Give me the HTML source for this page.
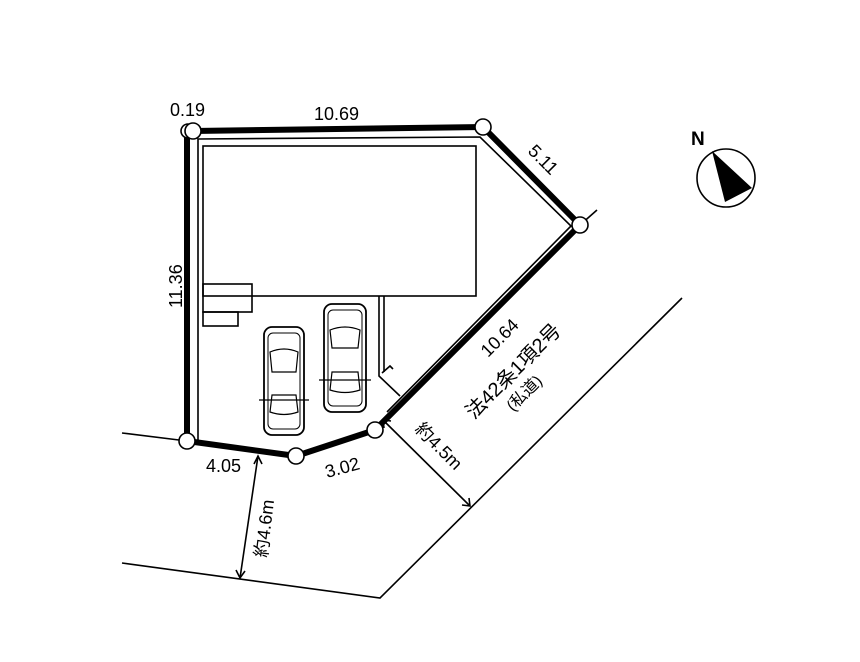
<!DOCTYPE html>
<html><head><meta charset="utf-8"><style>
html,body{margin:0;padding:0;background:#fff;width:860px;height:662px;overflow:hidden}
text{font-family:"Liberation Sans","Noto Sans CJK JP",sans-serif;fill:#000}
</style></head><body>
<svg width="860" height="662" viewBox="0 0 860 662" xmlns="http://www.w3.org/2000/svg">
<g fill="none" stroke="#000" stroke-width="1.6">
 <polyline points="122,433 187,441"/>
 <polyline points="122,563 380,598 682,298"/>
 <line x1="580" y1="225" x2="597" y2="210"/>
 <polyline points="198,440 198,139 480,137 571,226 387,412"/>
 <rect x="203" y="146" width="273" height="150"/>
 <rect x="203" y="284" width="49" height="28"/>
 <rect x="203" y="312" width="35" height="14"/>
 <polyline points="379,296 379,376 400,396"/>
 <polyline points="384,296 384,372"/>
 <polyline points="382,373 390,366 393,369"/>
 <line x1="383" y1="420" x2="470" y2="506"/>
 <polyline points="391,421 383,420 384,428" />
 <polyline points="462,505 470,506 469,498"/>
 <line x1="258" y1="456" x2="240" y2="578"/>
 <polyline points="254,464 258,456 262,464"/>
 <polyline points="236,570 240,578 245,571"/>
</g>
<g fill="none" stroke="#000" stroke-width="1.8">
 <rect x="264" y="327" width="40" height="108" rx="8"/>
 <rect x="268" y="333" width="32" height="96" rx="5" stroke-width="1"/>
 <path d="M270 352 Q284 346 298 352 L296 372 L272 372 Z" stroke-width="1.2"/>
 <path d="M272 395 L296 395 L298 412 Q284 417 270 412 Z" stroke-width="1.2"/>
 <line x1="259" y1="400" x2="309" y2="400" stroke-width="1.2"/>
 <rect x="324" y="304" width="42" height="108" rx="8"/>
 <rect x="328" y="310" width="34" height="96" rx="5" stroke-width="1"/>
 <path d="M330 330 Q345 324 360 330 L358 348 L332 348 Z" stroke-width="1.2"/>
 <path d="M332 372 L358 372 L360 390 Q345 395 330 390 Z" stroke-width="1.2"/>
 <line x1="319" y1="380" x2="371" y2="380" stroke-width="1.2"/>
</g>
<polyline points="193,131 483,127 580,225 375,430 296,456 187,441 187,131" fill="none" stroke="#000" stroke-width="6"/>
<g fill="#fff" stroke="#000" stroke-width="1.6">
 <circle cx="188" cy="131" r="7"/>
 <circle cx="193" cy="131" r="8"/>
 <circle cx="483" cy="127" r="8"/>
 <circle cx="580" cy="225" r="8"/>
 <circle cx="375" cy="430" r="8"/>
 <circle cx="296" cy="456" r="8"/>
 <circle cx="187" cy="441" r="8"/>
</g>
<circle cx="726" cy="178" r="29" fill="#fff" stroke="#000" stroke-width="1.6"/>
<polygon points="712,151 752,188 725,202" fill="#000"/>
<text x="691" y="145" font-size="19" font-weight="bold">N</text>
<g font-size="18">
 <text x="170" y="116">0.19</text>
 <text x="314" y="120">10.69</text>
 <text transform="translate(527,152) rotate(45)">5.11</text>
 <text transform="translate(182,308) rotate(-90)">11.36</text>
 <text transform="translate(488,358) rotate(-45)">10.64</text>
 <text transform="translate(474,420) rotate(-45)" font-size="20">法42条1項2号</text>
 <text transform="translate(513,412) rotate(-45)" font-size="16">(私道)</text>
 <text x="206" y="472">4.05</text>
 <text transform="translate(327,478) rotate(-15)">3.02</text>
 <text transform="translate(414,430) rotate(45)">約4.5m</text>
 <text transform="translate(267,558) rotate(-83)">約4.6m</text>
</g>
</svg>
</body></html>
